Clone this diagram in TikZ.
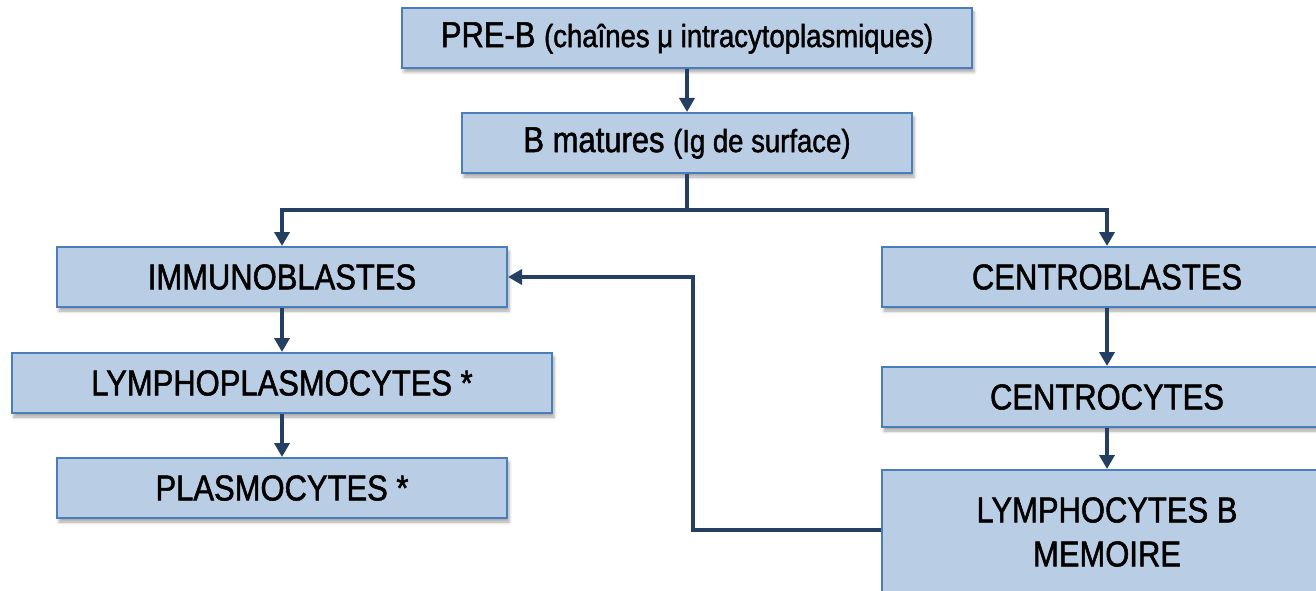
\documentclass[tikz,border=0pt]{standalone}
\usepackage{fontspec}
\setmainfont{Liberation Sans}[FakeStretch=0.86,FakeBold=1.4]
\usetikzlibrary{arrows.meta,shadows.blur}
\definecolor{boxfill}{HTML}{B9CDE5}
\definecolor{boxline}{HTML}{4A7EBB}
\definecolor{linkcol}{HTML}{243F62}
\begin{document}
\begin{tikzpicture}[x=1pt,y=-1pt,
  cell/.style={draw=boxline, line width=2pt, fill=boxfill, inner sep=0pt,
    minimum height=60pt, align=center, text=black,
    font=\fontsize{36}{44}\selectfont,
    blur shadow={shadow xshift=2pt, shadow yshift=-4pt,
      shadow blur radius=3pt, shadow opacity=35}},
  wire/.style={draw=linkcol, line width=4.5pt},
  link/.style={wire, -{Triangle[length=14pt,width=15pt]}}]
\useasboundingbox (0,0) rectangle (1316,591);
\clip (0,0) rectangle (1316,591);

% B-cell lineage boxes
\node[cell, minimum width=570pt] (preb) at (687,38)
  {PRE-B {\fontsize{32}{38}\selectfont (chaînes μ intracytoplasmiques)}};
\node[cell, minimum width=450pt] (mature) at (687,143)
  {B matures {\fontsize{32}{38}\selectfont (Ig de surface)}};
\node[cell, minimum width=450pt] (immuno) at (282,277) {IMMUNOBLASTES};
\node[cell, minimum width=540pt] (lympho) at (282,383) {LYMPHOPLASMOCYTES *};
\node[cell, minimum width=450pt] (plasmo) at (282,488) {PLASMOCYTES *};
\node[cell, minimum width=450pt] (cblast) at (1107,277) {CENTROBLASTES};
\node[cell, minimum width=450pt] (ccyte) at (1107,397) {CENTROCYTES};
\node[cell, minimum width=450pt, minimum height=124pt] (memory) at (1107,532)
  {LYMPHOCYTES B\\MEMOIRE};

% connectors
\coordinate (split) at (687,210);
\coordinate (bend) at (693,530);
\draw[link] (preb) -- (mature);
\draw[wire] (mature.south) -- (split);
\draw[link] (split) -| (immuno.north);
\draw[link] (split) -| (cblast.north);
\draw[link] (immuno) -- (lympho);
\draw[link] (lympho) -- (plasmo);
\draw[link] (cblast) -- (ccyte);
\draw[link] (ccyte) -- (memory);
\draw[link] (memory.west |- bend) -- (bend) |- (immuno.east);
\end{tikzpicture}
\end{document}
